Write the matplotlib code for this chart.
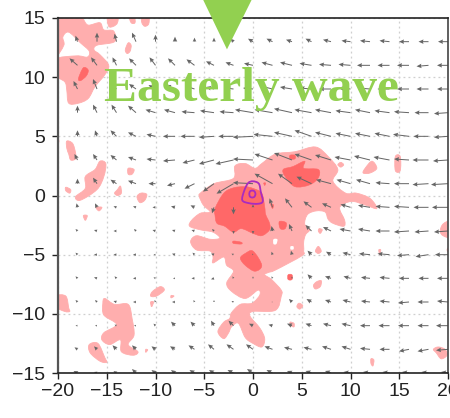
import numpy as np
import matplotlib
matplotlib.use("Agg")
import matplotlib.pyplot as plt
from matplotlib.path import Path
from matplotlib.patches import PathPatch, Polygon

# wind grid
lon = [-20, -18, -16, -14, -12, -10, -8, -6, -4, -2, 0, 2, 4, 6, 8, 10, 12, 14, 16, 18, 20]
lat = [13, 11, 9, 7, 5, 3, 1, -1, -3, -5, -7, -9, -11, -13, -15]

u13 = [0, -2, 0, -2, -4, 0, 0, 0, 0, -3, -5, -6, -6, -6, -8, -9, -10, -10, -10, -10, -10]
v13 = [0, 6, 9, 8, 9, 7, 5, 4, 4, 3, 3, 3, 2, 3, 2, 1, 1, 1, 0, 0, 0]
u11 = [-1, -8, -6, -4, -7, -6, -7, -8, -8, -8, -9, -11, -12, -12, -12, -12, -13, -12, -12, -12, -11]
v11 = [1, 7, 8, 8, 7, 8, 7, 6, 4, 3, 2, 3, 3, 2, 1, 1, 0, 0, 0, -1, 0]
u9 = [0, -4, -4, -5, -7, -7, -9, -9, -8, -8, -10, -12, -12, -12, -12, -12, -12, -12, -12, -12, -11]
v9 = [0, 8, 10, 5, 5, 4, 4, 3, 2, 1, 1, 3, 2, 1, 0, 1, 1, 0, 0, 0, 0]
u7 = [-1, 0, -4, -5, -8, -10, -11, -13, -14, -14, -18, -18, -18, -17, -16, -15, -15, -15, -15, -14, -14]
v7 = [1, 7, 8, 8, 7, 3, 3, 1, 2, 1, 3, 3, 4, 3, 3, 2, 3, 2, 1, 0, -1]
u5 = [-1, 0, -2, -6, -8, -9, -12, -14, -15, -15, -20, -19, -18, -17, -16, -15, -15, -15, -16, -15, -14]
v5 = [0, 6, 6, 6, 4, 2, 0, 0, -1, 0, -1, 2, 4, 6, 4, 3, 3, 3, 2, 0, -1]
u3 = [0, -3, -4, -6, -8, -9, -12, -12, -15, -18, -20, -18, -18, -17, -16, -16, -16, -16, -15, -16, -15]
v3 = [0, 6, 6, 5, 3, 1, -1, -3, -4, -4, 1, 6, 7, 6, 5, 3, 4, 3, 1, 0, -1]
u1 = [0, 0, -4, -6, -8, -7, -8, -10, -11, -17, -20, -18, -14, -15, -15, -14, -14, -14, -15, -16, -17]
v1 = [1, 5, 6, 4, 3, 0, -2, -5, -8, -10, 1, 10, 10, 7, 4, 4, 4, 1, 0, -1, -1]
um1 = [0, -1, -2, -3, -3, -3, -4, -4, -2, 0, 0, -3, -7, -8, -9, -10, -12, -14, -15, -15, -16]
vm1 = [1, 4, 4, 1, 1, 0, 1, 2, -6, -7, 3, 9, 9, 6, 4, 3, 2, 1, 1, 0, 0]
um3 = [-1, -2, -3, -3, -2, -3, -3, -3, -2, 0, 0, -1, -3, -6, -8, -11, -12, -14, -15, -14, -14]
vm3 = [0, 2, 1, 0, 2, 1, 1, 1, 2, -3, -3, 5, 7, 6, 4, 2, 2, 0, -1, -1, -1]
um5 = [-1, -2, -3, -3, -3, -2, -3, -2, -3, -2, -1, -1, -1, -4, -5, -8, -11, -12, -12, -13, -13]
vm5 = [0, 2, 0, 0, 0, 0, 1, 2, 1, 1, 1, 3, 4, 4, 3, 2, 1, 1, -1, -2, 0]
um7 = [-1, -2, -3, -2, -3, -2, -2, -3, -3, -1, 0, -1, 0, -4, -6, -7, -9, -10, -10, -10, -11]
vm7 = [1, 2, 1, 2, 0, 1, 0, 0, -1, 2, 2, 2, 2, 4, 2, 2, 1, 1, 0, 0, 0]
um9 = [0, -2, -2, -3, -3, -1, -3, -1, 0, -2, -1, -1, -3, -5, -6, -8, -9, -10, -11, -11, -11]
vm9 = [0, 2, 2, 1, 0, 2, 0, 2, 2, 1, 0, 0, 3, 3, 2, 2, 1, 1, -1, 0, 1]
um11 = [-1, -2, -2, -2, -2, -2, -4, -4, -3, -5, -4, -4, -5, -6, -8, -9, -10, -11, -11, -11, -12]
vm11 = [1, 0, 0, 1, 0, 2, 4, 4, 5, 5, 2, 1, 2, 2, 2, 2, 0, 0, 0, 0, 0]
um13 = [-1, -3, -3, -4, -4, -4, -5, -6, -6, -7, -7, -8, -8, -8, -9, -9, -10, -10, -10, -11, -12]
vm13 = [1, 2, 3, 4, 4, 3, 3, 4, 5, 5, 5, 3, 2, 2, 3, 3, 1, 0, -2, -2, -1]
um15 = [-1, -4, -3, -3, -4, -4, -4, -5, -5, -6, -6, -6, -5, -6, -6, -7, -7, -7, -7, -7, -7]
vm15 = [1, 2, 1, 2, 4, 3, 3, 3, 3, 3, 4, 3, 2, 2, 2, 1, 1, 1, 1, 1, 1]

# light shaded regions (lon, lat outlines)
light_regions = [
    [(-20.3, 15.3), (-17.7, 15.3), (-17.4, 14.9), (-16.9, 14.4), (-15.7, 14.6), (-15.3, 14.0), (-14.3, 13.9), (-14.2, 13.0), (-16.0, 12.7),
     (-16.3, 12.3), (-15.7, 11.9), (-14.8, 11.0), (-15.2, 10.2), (-16.2, 9.2), (-16.9, 8.2), (-17.9, 7.8),
     (-18.9, 7.8), (-19.1, 8.9), (-19.3, 9.6), (-20.3, 10.2), (-20.3, 11.5), (-18.1, 11.8), (-17, 11.7), (-16.8, 12.2),
     (-17.7, 12.9), (-18.9, 13.8), (-19.5, 13.4), (-19.4, 12.7), (-20.3, 11.9)],
    [(-14.9, 15.2), (-13.9, 15.2), (-13.9, 14.6), (-14.3, 14.3), (-14.8, 14.3)],
    [(-12.7, 15.2), (-12.2, 15.2), (-12.1, 14.6), (-12.5, 14.6)],
    [(-11.4, 15.2), (-10.7, 15.2), (-10.7, 14.5), (-11.1, 14.3), (-11.4, 14.6)],
    [(-12.8, 12.9), (-12.5, 12.7), (-12.6, 12.2), (-12.9, 12.0), (-13.1, 12.3)],
    [(-20.2, 5.1), (-19.9, 4.6), (-20.2, 4.3)],
    [(-19.1, 4.6), (-18.5, 4.4), (-18.2, 3.6), (-18.2, 3.1), (-18.7, 3.0), (-18.9, 3.5), (-19.1, 4)],
    [(-15.7, 2.9), (-15.1, 2.7), (-15.3, 1.6), (-16, 0.5), (-17.7, -0.4), (-18.2, -0.1), (-17.2, 0.6),
     (-17.2, 1.6), (-16.2, 2.2)],
    [(-19.2, 0.7), (-18.7, 0.5), (-18.8, 0.2), (-19.2, 0.4)],
    [(-12.8, 2.3), (-12.2, 2.2), (-12.4, 1.8), (-12.8, 1.8)],
    [(-13.6, 0.8), (-13.5, 0.2), (-13.9, 0), (-14.2, 0.2), (-13.9, 0.5)],
    [(-11.5, 0.2), (-10.9, 0.1), (-11.1, -0.4), (-11.6, -0.6), (-11.9, -0.1)],
    [(-17.4, -1.7), (-17, -1.7), (-17.2, -2.1)],
    [(-16.1, -1), (-15.5, -1), (-15.8, -1.3)],
    [(-20.2, -8.5), (-19.2, -8.5), (-18.9, -9.5), (-18.8, -9.8), (-19.3, -9.8), (-20.2, -9.4)],
    [(-15.2, -8.7), (-14.2, -9.2), (-12.8, -9.2), (-12.4, -10.4), (-12.2, -11.8), (-12.8, -12.6), (-11.8, -13.2),
     (-12.3, -13.5), (-13.5, -13.2), (-13.6, -12.2), (-14.7, -12.6), (-15.5, -12.2), (-15.3, -11.6),
     (-14, -10.9), (-15.3, -10.1), (-15.4, -9.1)],
    [(-16.8, -12.6), (-15.9, -12.5), (-15.2, -13.7), (-15, -14.1), (-15.7, -14), (-16.7, -13.3)],
    [(-9.5, -7.7), (-9.1, -8), (-9.9, -8.5), (-10.5, -8.5), (-10.3, -8.1)],
    [(-10.5, -9), (-10.2, -9), (-10.4, -9.4)],
    [(-8.4, -8.45), (-8.1, -8.5), (-8.4, -8.65)],
    [(-11.0, -13), (-10.8, -13.05), (-11.0, -13.25)],
    # main central system
    [(-1.85, 2.5), (-0.8, 2.7), (0.2, 2.3), (0.9, 2.7), (2.3, 3.5), (4.3, 3.7), (6.4, 4.1), (7.7, 3.3), (8.7, 2.2),
     (8.2, 1.2), (9.5, 0.2), (10.6, 0.2), (12.0, -0.24), (12.7, -1.1), (11.5, -0.8), (10.1, -0.5), (8.9, -1), (9.4, -2.1),
     (9.3, -2.6), (8.2, -2.35), (7.7, -2.0), (7.4, -1.4), (6.5, -1.3), (5.6, -1.6), (5.3, -2.4), (5.8, -2.9),
     (5.4, -3.3), (5.2, -3.9), (5.2, -4.7), (5, -5.1), (2.3, -6.3), (1.6, -6.5), (1.2, -6.7), (1.9, -7.1), (2.9, -8),
     (2.9, -8.5), (2.3, -9.7), (0, -9.8), (-0.3, -10.2), (0.7, -11.2), (1.2, -12.1), (0.9, -12.8), (0, -12.5),
     (-0.8, -12), (-1.5, -10.8), (-2.2, -11.1), (-2.5, -11.6), (-3, -12.1), (-3.6, -11.5), (-3, -10.7), (-2.4, -10.4),
     (-2.2, -9.9), (-1.3, -9.2), (-0.1, -9.1), (0.7, -8.4), (0.5, -8), (-0.8, -8.7), (-2.2, -8.1), (-2.7, -7.4),
     (-2, -6.4), (-2.7, -5.9), (-3, -5.2), (-4.1, -5.7), (-4.1, -5.2), (-4.4, -4.7), (-5.8, -4.6), (-6.4, -3.9),
     (-5.8, -3.4), (-4.4, -3.7), (-3.4, -3.6), (-4.1, -3.1), (-5.4, -2.9), (-6.5, -2.6), (-6.3, -2.1), (-5.4, -1.5),
     (-4.4, -1.4), (-5.1, -0.8), (-5.5, -0.1), (-5.4, 0.2), (-4, 1.0), (-2, 1.45)],
    [(12.2, 2.9), (12.7, 2.3), (12, 1.9), (11.3, 1.9), (11.5, 2.3)],
    [(9, 2.8), (9.3, 2.6), (9, 2.4), (8.7, 2.6)],
    [(14.6, 3.3), (15.1, 3.3), (15.1, 2.1), (14.6, 2.1)],
    [(20.3, -2.2), (19.5, -2.4), (19.2, -3), (19.5, -3.4), (20.3, -3.5)],
    [(20.2, -4.3), (19.9, -4.6), (20.2, -4.9)],
    [(6.7, -4.3), (7, -4.7), (6.7, -4.9), (6.4, -4.7)],
    [(6.8, -2.8), (7.1, -2.9), (6.9, -3.2), (6.7, -3)],
    [(12.9, -4.6), (13.1, -4.6), (13, -5)],
    [(7, -7.2), (6.9, -7.7), (6.4, -7.9), (6.2, -7.6), (6.5, -7.3)],
    [(4.7, -9.1), (5.1, -9.3), (4.8, -9.6), (4.5, -9.4)],
    [(3.8, -10.7), (4.2, -10.8), (4.2, -11.1), (3.9, -11)],
    [(12.1, -13.8), (12.4, -13.9), (12.3, -14.4), (12.1, -14.2)],
    [(18.5, -13), (19, -12.8), (19.7, -13), (19.9, -13.5), (19.3, -13.8), (18.8, -13.3)],
]

holes = [
    [(2.1, -3.7), (2.5, -3.7), (2.4, -4.1), (2.1, -4.1)],
    [(3.85, -4.3), (4.15, -4.3), (4.15, -4.55), (3.85, -4.55)],
]

# dark shaded regions
dark_regions = [
    [(-3, 0.2), (-2, 0.65), (-0.8, 0.75), (0, 0.6), (0.9, 0.2), (1.2, -0.95), (1.3, -1.6), (1.7, -2.35), (1.7, -2.9),
     (0.9, -3.4), (0, -3.2), (-1.2, -2.8), (-2, -3.1), (-2.9, -2.6), (-3.7, -2.35), (-3.9, -1.65), (-3.9, -1.1)],
    [(3.1, 2.2), (4.1, 2.45), (5.3, 2.9), (5.2, 2.3), (6.7, 2.2), (6.7, 1.5), (5.8, 0.9), (4.3, 0.75), (3.3, 1.6)],
    [(3.8, 3.4), (4.3, 3.4), (4.3, 3.1), (3.8, 3.1)],
    [(-0.8, -4.9), (0, -4.7), (0.9, -5.9), (0.2, -6.4), (-0.8, -5.9), (-1.3, -5.3)],
    [(-2, -3.85), (-1.2, -3.95), (-1.2, -4.1), (-2, -4.05)],
    [(2.7, -2.2), (3.4, -2.3), (3.3, -2.8), (2.8, -2.8)],
    [(1.8, -0.7), (2.1, -0.8), (2, -1.1)],
    [(3.6, -6.7), (4.0, -6.7), (4.0, -7.1), (3.6, -7.1)],
    [(-17.9, 9.9), (-17.4, 10.8), (-16.9, 10.6), (-17.1, 10.1), (-17.7, 9.7)],
    [(1.1, 1.05), (1.3, 1.05), (1.2, 0.85)],
]

# purple contours
contour_outer = [(-0.9, 0.4), (-0.5, 1.05), (0, 1.2), (0.6, 1.0), (0.8, 0.3), (1, -0.5), (0.5, -0.7), (-0.4, -0.65), (-1.1, -0.4)]
contour_inner = [(-0.07, 0.42), (0.15, 0.35), (0.25, 0.13), (0.15, -0.1), (-0.07, -0.17), (-0.3, -0.1), (-0.38, 0.13), (-0.3, 0.35)]

# annotation
label_text = "Easterly wave"
triangle = [(-5.15, 16.6), (-0.1, 16.6), (-2.67, 12.35)]
xticks = [-20, -15, -10, -5, 0, 5, 10, 15, 20]
yticks = [-15, -10, -5, 0, 5, 10, 15]


def smooth_closed(pts):
    # closed Catmull-Rom spline through the outline points
    p = np.array(pts, dtype=float)
    n = len(p)
    verts = [p[0]]
    codes = [Path.MOVETO]
    for i in range(n):
        p0, p1, p2, p3 = p[i - 1], p[i], p[(i + 1) % n], p[(i + 2) % n]
        verts += [p1 + (p2 - p0) / 6, p2 - (p3 - p1) / 6, p2]
        codes += [Path.CURVE4, Path.CURVE4, Path.CURVE4]
    return Path(verts, codes)


W, H = 450, 418
fig = plt.figure(figsize=(W / 100, H / 100), dpi=100)
ax = fig.add_axes([58 / W, 1 - 373 / H, 390 / W, 355 / H])
ax.set_xlim(-20, 20)
ax.set_ylim(-15, 15)

ax.grid(True, color="#cfcfcf", ls=(0, (1.5, 2.5)), lw=0.9, zorder=0)
ax.set_axisbelow(True)

LIGHT = "#FFAEAE"
DARK = "#FF6868"
for r in light_regions:
    ax.add_patch(PathPatch(smooth_closed(r), fc=LIGHT, ec=LIGHT, lw=0.6, zorder=1))
for r in holes:
    ax.add_patch(PathPatch(smooth_closed(r), fc="white", ec="none", zorder=1.1))
for r in dark_regions:
    ax.add_patch(PathPatch(smooth_closed(r), fc=DARK, ec=DARK, lw=0.4, zorder=1.2))

for r in (contour_outer, contour_inner):
    ax.add_patch(PathPatch(smooth_closed(r), fc="none", ec="#A92BC0", lw=1.3, zorder=3))

U = np.array([u13, u11, u9, u7, u5, u3, u1, um1, um3, um5, um7, um9, um11, um13, um15], dtype=float)
V = np.array([v13, v11, v9, v7, v5, v3, v1, vm1, vm3, vm5, vm7, vm9, vm11, vm13, vm15], dtype=float)
X, Y = np.meshgrid(lon, lat)
ax.quiver(X, Y, U, V, angles="uv", scale_units="dots", scale=1, units="dots", pivot="tail",
          width=1.0, headwidth=4.5, headlength=5, headaxislength=4.5, minlength=0,
          color="#666666", zorder=2)

ax.set_xticks(xticks)
ax.set_yticks(yticks)
fs = 14
ax.set_xticklabels([str(t).replace("-", "\u2212") for t in xticks], family="Liberation Sans", fontsize=fs, color="#222222")
ax.set_yticklabels([str(t).replace("-", "\u2212") for t in yticks], family="Liberation Sans", fontsize=fs, color="#222222")
ax.tick_params(axis="both", length=4.5, width=1, color="#222222")
ax.tick_params(axis="x", pad=3)
ax.tick_params(axis="y", pad=4.5)

ax.spines["left"].set_linewidth(1.6)
ax.spines["left"].set_color("#555555")
ax.spines["right"].set_linewidth(1.2)
ax.spines["right"].set_color("#444444")
ax.spines["top"].set_linewidth(1.2)
ax.spines["top"].set_color("#222222")
ax.spines["bottom"].set_linewidth(1.2)
ax.spines["bottom"].set_color("#222222")

ax.text(-15.3, 8.0, label_text, family="Liberation Serif", weight="bold", fontsize=35.6,
        color="#92D050", ha="left", va="baseline", zorder=5)
ax.add_patch(Polygon(triangle, closed=True, fc="#92D050", ec="none", clip_on=False, zorder=6))

fig.savefig("out.png", dpi=100)
